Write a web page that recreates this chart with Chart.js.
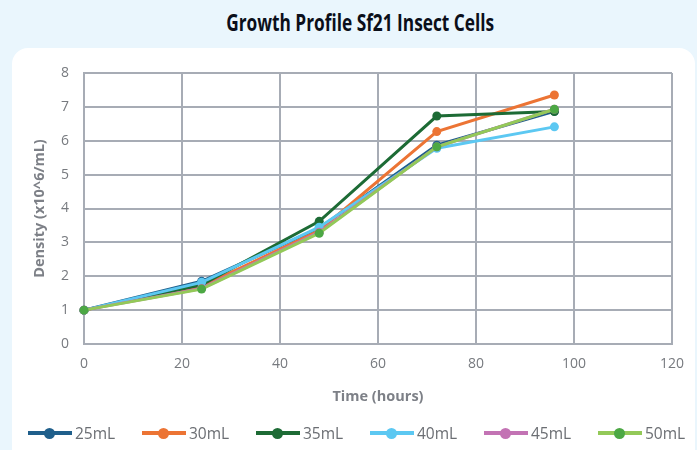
<!DOCTYPE html>
<html>
<head>
<meta charset="utf-8">
<script src="https://cdn.jsdelivr.net/npm/chart.js@4.4.0/dist/chart.umd.min.js"></script>
<style>
    html, body {
        margin: 0;
        padding: 0;
        width: 697px;
        height: 450px;
        overflow: hidden;
        background: #eaf6fd;
        font-family: 'Open Sans', sans-serif;
    }
    #panel {
        position: absolute;
        left: 12px;
        top: 48px;
        width: 683px;
        height: 440px;
        background: #ffffff;
        border-radius: 16px;
    }
    #title {
        position: absolute;
        left: 0;
        top: 5px;
        width: 720px;
        text-align: center;
        font-size: 24px;
        font-weight: 700;
        color: #0b0f1a;
    }
    #title span {
        display: inline-block;
        transform: scaleX(0.72);
    }
    #chart-box {
        position: absolute;
        left: 0;
        top: 0;
        width: 697px;
        height: 450px;
    }
    #legend {
        position: absolute;
        left: 28px;
        top: 422px;
        display: flex;
    }
    .item {
        width: 114px;
        display: flex;
        align-items: center;
        font-size: 15.5px;
        color: #6b6e73;
    }
    .mark {
        position: relative;
        width: 44px;
        height: 4px;
        margin-right: 3px;
    }
    .mark i {
        position: absolute;
        left: 16px;
        top: -3.5px;
        width: 11px;
        height: 11px;
        border-radius: 50%;
    }
</style>
</head>
<body>
<div id="panel"></div>
<div id="title"><span>Growth Profile Sf21 Insect Cells</span></div>
<div id="chart-box"><canvas id="myChart"></canvas></div>
<div id="legend"></div>

<script>
const hours = [0, 24, 48, 72, 96];
const seriesNames = ['25mL', '30mL', '35mL', '40mL', '45mL', '50mL'];
const ml25 = [1, 1.85, 3.42, 5.87, 6.87];
const ml30 = [1, 1.70, 3.35, 6.27, 7.35];
const ml35 = [1, 1.75, 3.62, 6.73, 6.86];
const ml40 = [1, 1.82, 3.45, 5.78, 6.41];
const ml45 = [1, 1.64, 3.30, 5.82, 6.93];
const ml50 = [1, 1.62, 3.27, 5.82, 6.93];
const xTicks = [0, 20, 40, 60, 80, 100, 120];
const yTicks = [0, 1, 2, 3, 4, 5, 6, 7, 8];

const allValues = [ml25, ml30, ml35, ml40, ml45, ml50];
const lineColors = ['#1f5f8b', '#ec7434', '#1d6b35', '#5cc8f2', '#c373b4', '#93c958'];
const dotColors = ['#1f5f8b', '#ec7434', '#1d6b35', '#5cc8f2', '#c373b4', '#4ca844'];
const gridColor = '#a7acb5';
const tickColor = '#777a7f';

const datasets = seriesNames.map((name, i) => ({
    label: name,
    data: allValues[i].map((v, j) => ({ x: hours[j], y: v })),
    borderColor: lineColors[i],
    backgroundColor: dotColors[i],
    pointBackgroundColor: dotColors[i],
    pointBorderColor: dotColors[i],
    pointBorderWidth: 0,
    pointRadius: 4.5,
    borderWidth: 3,
    tension: 0,
    clip: false,
    order: seriesNames.length - i,
}));

var ctx = document.getElementById('myChart').getContext('2d');

var myChart = new Chart(ctx, {
    type: 'line',
    data: { datasets: datasets },
    options: {
        responsive: true,
        maintainAspectRatio: false,
        animation: false,
        layout: {
            padding: { top: 73, right: 25, bottom: 44, left: 0 }
        },
        plugins: {
            legend: { display: false },
            title: { display: false },
            tooltip: { enabled: false }
        },
        scales: {
            x: {
                type: 'linear',
                min: 0,
                max: 120,
                afterFit: function (scale) { scale.height = 62; },
                afterBuildTicks: function (scale) {
                    scale.ticks = xTicks.map(v => ({ value: v }));
                },
                grid: { color: gridColor, lineWidth: 2, drawTicks: false },
                border: { color: gridColor, width: 2 },
                ticks: {
                    padding: 12,
                    color: tickColor,
                    font: { family: 'Open Sans', size: 14 }
                },
                title: {
                    display: true,
                    text: 'Time (hours)',
                    color: '#7d8087',
                    padding: { top: 0, bottom: 0 },
                    font: { family: 'Open Sans', size: 14.5, weight: 'bold' }
                }
            },
            y: {
                min: 0,
                max: 8,
                afterFit: function (scale) { scale.width = 84; },
                afterBuildTicks: function (scale) {
                    scale.ticks = yTicks.map(v => ({ value: v }));
                },
                grid: { color: gridColor, lineWidth: 2, drawTicks: false },
                border: { color: gridColor, width: 2 },
                ticks: {
                    padding: 15,
                    color: tickColor,
                    font: { family: 'Open Sans', size: 14 }
                },
                title: {
                    display: true,
                    text: 'Density (x10^6/mL)',
                    color: '#7d8087',
                    padding: { top: 31, bottom: 0 },
                    font: { family: 'Open Sans', size: 14.5, weight: 'bold' }
                }
            }
        }
    }
});

// legend, line with a dot like the original
const legendBox = document.getElementById('legend');
seriesNames.forEach((name, i) => {
    const item = document.createElement('div');
    item.className = 'item';
    item.innerHTML = '<span class="mark" style="background:' + lineColors[i] + '"><i style="background:' +
        dotColors[i] + '"></i></span><span>' + name + '</span>';
    legendBox.appendChild(item);
});
</script>
</body>
</html>
